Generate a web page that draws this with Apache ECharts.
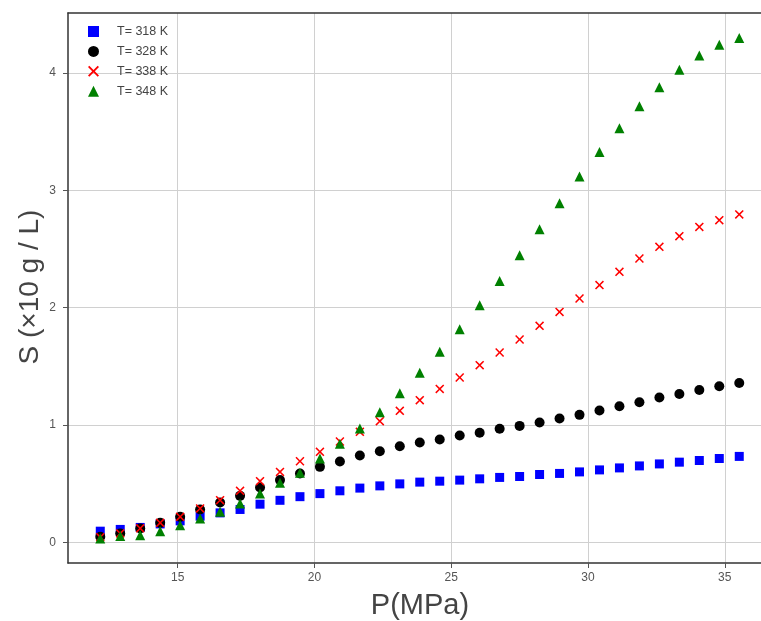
<!DOCTYPE html>
<html>
<head>
<meta charset="utf-8">
<script src="https://cdn.jsdelivr.net/npm/echarts@6/dist/echarts.min.js"></script>
<style>
html,body{margin:0;padding:0;background:#fff;}
#chart{width:761px;height:621px;}
</style>
</head>
<body>
<div id="chart"></div>
<script>
// Pressure (MPa)
const pressure = [12.17, 12.90, 13.63, 14.36, 15.09, 15.82, 16.55, 17.28, 18.01, 18.74, 19.47,
  20.20, 20.93, 21.66, 22.39, 23.12, 23.85, 24.58, 25.31, 26.04, 26.77, 27.50, 28.23,
  28.96, 29.69, 30.42, 31.15, 31.88, 32.61, 33.34, 34.07, 34.80, 35.53];
// Solubility S (x10 g / L)
const s318 = [0.096, 0.111, 0.128, 0.158, 0.184, 0.224, 0.252, 0.281, 0.326, 0.359, 0.390,
  0.416, 0.440, 0.463, 0.482, 0.499, 0.514, 0.522, 0.531, 0.542, 0.554, 0.562, 0.579,
  0.588, 0.601, 0.618, 0.635, 0.652, 0.669, 0.684, 0.698, 0.715, 0.733];
const s328 = [0.048, 0.077, 0.119, 0.167, 0.218, 0.281, 0.341, 0.397, 0.468, 0.531, 0.588,
  0.644, 0.690, 0.741, 0.777, 0.820, 0.852, 0.877, 0.911, 0.934, 0.968, 0.993, 1.022,
  1.056, 1.087, 1.124, 1.160, 1.194, 1.235, 1.265, 1.299, 1.331, 1.359];
const s338 = [0.045, 0.077, 0.120, 0.167, 0.218, 0.290, 0.360, 0.440, 0.522, 0.601, 0.692,
  0.772, 0.860, 0.942, 1.033, 1.121, 1.212, 1.308, 1.405, 1.510, 1.618, 1.729, 1.845,
  1.964, 2.078, 2.192, 2.305, 2.419, 2.518, 2.609, 2.688, 2.745, 2.794];
const s348 = [0.034, 0.054, 0.062, 0.096, 0.147, 0.204, 0.261, 0.332, 0.417, 0.508, 0.593,
  0.715, 0.840, 0.970, 1.110, 1.272, 1.445, 1.624, 1.817, 2.021, 2.228, 2.447, 2.669,
  2.890, 3.118, 3.325, 3.529, 3.716, 3.878, 4.026, 4.148, 4.239, 4.296];
const seriesNames = ['T= 318 K', 'T= 328 K', 'T= 338 K', 'T= 348 K'];
const xTicks = [15, 20, 25, 30, 35];
const yTicks = [0, 1, 2, 3, 4];
const xTitle = 'P(MPa)';
const yTitle = 'S (\u00d710 g / L)';

const pairs = (ys) => pressure.map((p, i) => [p, ys[i]]);
const crossPath = 'path://M0,1.2 L1.2,0 L5,3.8 L8.8,0 L10,1.2 L6.2,5 L10,8.8 L8.8,10 L5,6.2 L1.2,10 L0,8.8 L3.8,5 Z';

const chart = echarts.init(document.getElementById('chart'), null, {renderer: 'canvas'});
const narrow = '"Liberation Sans Narrow", "Liberation Sans", Arial, sans-serif';
const X_MIN = 10.99, X_MAX = 36.8;
chart.setOption({
  animation: false,
  backgroundColor: '#ffffff',
  grid: {left: 68, top: 13, width: 706, height: 550, outerBoundsMode: 'none', containLabel: false},
  legend: {
    orient: 'vertical', left: 83, top: 20, itemWidth: 11, itemHeight: 11, itemGap: 6.9,
    data: seriesNames,
    textStyle: {fontFamily: '"Liberation Sans", Arial, sans-serif', fontSize: 12.5, color: '#444444', padding: [0, 0, 0, 13]}
  },
  xAxis: [{
    type: 'value', min: X_MIN, max: X_MAX,
    axisLine: {show: true, onZero: false, lineStyle: {color: '#333333', width: 1.5}},
    axisTick: {show: true, length: 5, customValues: xTicks, lineStyle: {color: '#555555', width: 1}},
    axisLabel: {customValues: xTicks, margin: 9, fontFamily: narrow, fontSize: 12, color: '#555555'},
    splitLine: {show: true, lineStyle: {color: '#d0d0d0', width: 1}}
  }, {
    type: 'value', position: 'top', min: X_MIN, max: X_MAX,
    axisLine: {show: true, onZero: false, lineStyle: {color: '#333333', width: 1.5}},
    axisTick: {show: false}, axisLabel: {show: false}, splitLine: {show: false}
  }],
  yAxis: {
    type: 'value', min: -0.175, max: 4.51,
    axisLine: {show: true, onZero: false, lineStyle: {color: '#333333', width: 1.5}},
    axisTick: {show: true, length: 5, customValues: yTicks, lineStyle: {color: '#555555', width: 1}},
    axisLabel: {customValues: yTicks, margin: 12, fontFamily: '"Liberation Sans", Arial, sans-serif', fontSize: 12, color: '#555555'},
    splitLine: {show: true, lineStyle: {color: '#d0d0d0', width: 1}}
  },
  graphic: [
    {type: 'text', x: 420, y: 606, style: {text: xTitle, fontFamily: narrow, fontSize: 29, fill: '#444444', align: 'center', verticalAlign: 'middle'}},
    {type: 'text', x: 30, y: 287, rotation: Math.PI / 2, style: {text: yTitle, fontFamily: '"Liberation Sans", Arial, sans-serif', fontSize: 28, fill: '#444444', align: 'center', verticalAlign: 'middle'}}
  ],
  series: [
    {name: seriesNames[0], type: 'scatter', data: pairs(s318), symbol: 'rect', symbolSize: 9, itemStyle: {color: '#0000ff', opacity: 1}},
    {name: seriesNames[1], type: 'scatter', data: pairs(s328), symbol: 'circle', symbolSize: 10, itemStyle: {color: '#000000', opacity: 1}},
    {name: seriesNames[2], type: 'scatter', data: pairs(s338), symbol: crossPath, symbolKeepAspect: true, symbolSize: 9, itemStyle: {color: '#ff0000', opacity: 1}},
    {name: seriesNames[3], type: 'scatter', data: pairs(s348), symbol: 'triangle', symbolSize: 10, itemStyle: {color: '#008000', opacity: 1}}
  ]
});
</script>
</body>
</html>
